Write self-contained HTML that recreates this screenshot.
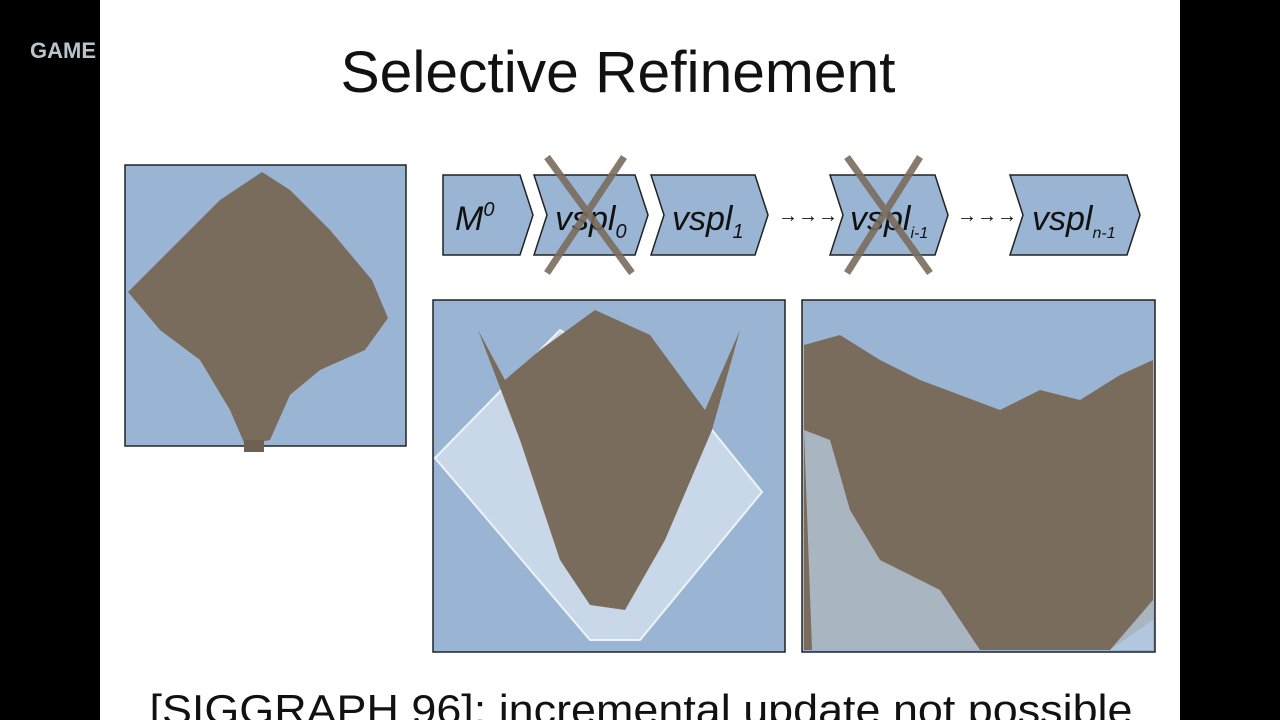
<!DOCTYPE html>
<html><head><meta charset="utf-8"><style>
html,body{margin:0;padding:0;background:#000;width:1280px;height:720px;overflow:hidden}
svg{display:block}
</style></head><body>
<svg width="1280" height="720" viewBox="0 0 1280 720" font-family="Liberation Sans, sans-serif">
<rect x="0" y="0" width="1280" height="720" fill="#000"/>
<rect x="100" y="0" width="1080" height="720" fill="#fff"/>
<text x="30" y="58" font-size="22" font-weight="bold" fill="#b8c4cc">GAME</text>
<text x="618" y="92" font-size="58" text-anchor="middle" fill="#111" textLength="555" lengthAdjust="spacingAndGlyphs">Selective Refinement</text>

<g>
<rect x="125" y="165" width="281" height="281" fill="#9ab5d3" stroke="#222" stroke-width="1.5"/>
<polygon points="262,172 290,190 330,230 372,280 388,318 365,350 320,370 290,395 270,440 245,445 230,410 200,360 160,330 128,292 170,250 220,200" fill="#7a6c5d"/>
<rect x="244" y="440" width="20" height="12" fill="#6e6152"/>
</g>

<g font-style="italic" font-size="34" fill="#111">
<polygon points="443,175 520,175 533,215 520,255 443,255" fill="#9ab5d3" stroke="#222" stroke-width="1.5"/>
<text x="455" y="230">M<tspan font-size="20" dy="-14">0</tspan></text>
<polygon points="534,175 635,175 648,215 635,255 534,255 547,215" fill="#9ab5d3" stroke="#222" stroke-width="1.5"/>
<text x="555" y="230">vspl<tspan font-size="20" dy="8">0</tspan></text>
<polygon points="651,175 755,175 768,215 755,255 651,255 664,215" fill="#9ab5d3" stroke="#222" stroke-width="1.5"/>
<text x="672" y="230">vspl<tspan font-size="20" dy="8">1</tspan></text>
<text x="778" y="222" font-size="20" font-style="normal">→→→→</text>
<polygon points="830,175 935,175 948,215 935,255 830,255 843,215" fill="#9ab5d3" stroke="#222" stroke-width="1.5"/>
<text x="850" y="230">vspl<tspan font-size="16" dy="8">i-1</tspan></text>
<text x="957" y="222" font-size="20" font-style="normal">→→→→</text>
<polygon points="1010,175 1127,175 1140,215 1127,255 1010,255 1023,215" fill="#9ab5d3" stroke="#222" stroke-width="1.5"/>
<text x="1032" y="230">vspl<tspan font-size="16" dy="8">n-1</tspan></text>
<g stroke="#7a6c5d" stroke-width="7" opacity="0.9">
<line x1="547" y1="157" x2="632" y2="273"/><line x1="624" y1="157" x2="547" y2="273"/>
<line x1="847" y1="157" x2="930" y2="273"/><line x1="920" y1="157" x2="847" y2="273"/>
</g>
</g>

<g>
<rect x="433" y="300" width="352" height="352" fill="#9ab5d3" stroke="#222" stroke-width="1.5"/>
<polygon points="435,458 560,330 712,430 762,492 640,640 590,640" fill="#c9d8e8" stroke="#eef3f8" stroke-width="2"/>
<polygon points="595,310 650,335 705,410 740,330 712,430 665,540 625,610 590,605 560,560 520,440 478,330 505,380 540,350" fill="#7a6c5d"/>
</g>

<g>
<rect x="802" y="300" width="353" height="352" fill="#9ab5d3" stroke="#222" stroke-width="1.5"/>
<polygon points="804,345 840,335 880,360 920,380 960,395 1000,410 1040,390 1080,400 1120,375 1153,360 1153,620 1110,650 804,650" fill="#7a6c5d"/>
<polygon points="804,430 830,440 850,510 880,560 940,590 980,650 812,650" fill="#b9cde2" opacity="0.75"/>
<polygon points="1110,650 1153,600 1153,650" fill="#b9cde2" opacity="0.75"/>
</g>

<text x="641" y="724" font-size="42" text-anchor="middle" fill="#111" textLength="983" lengthAdjust="spacingAndGlyphs">[SIGGRAPH 96]: incremental update not possible</text>
</svg>
</body></html>
